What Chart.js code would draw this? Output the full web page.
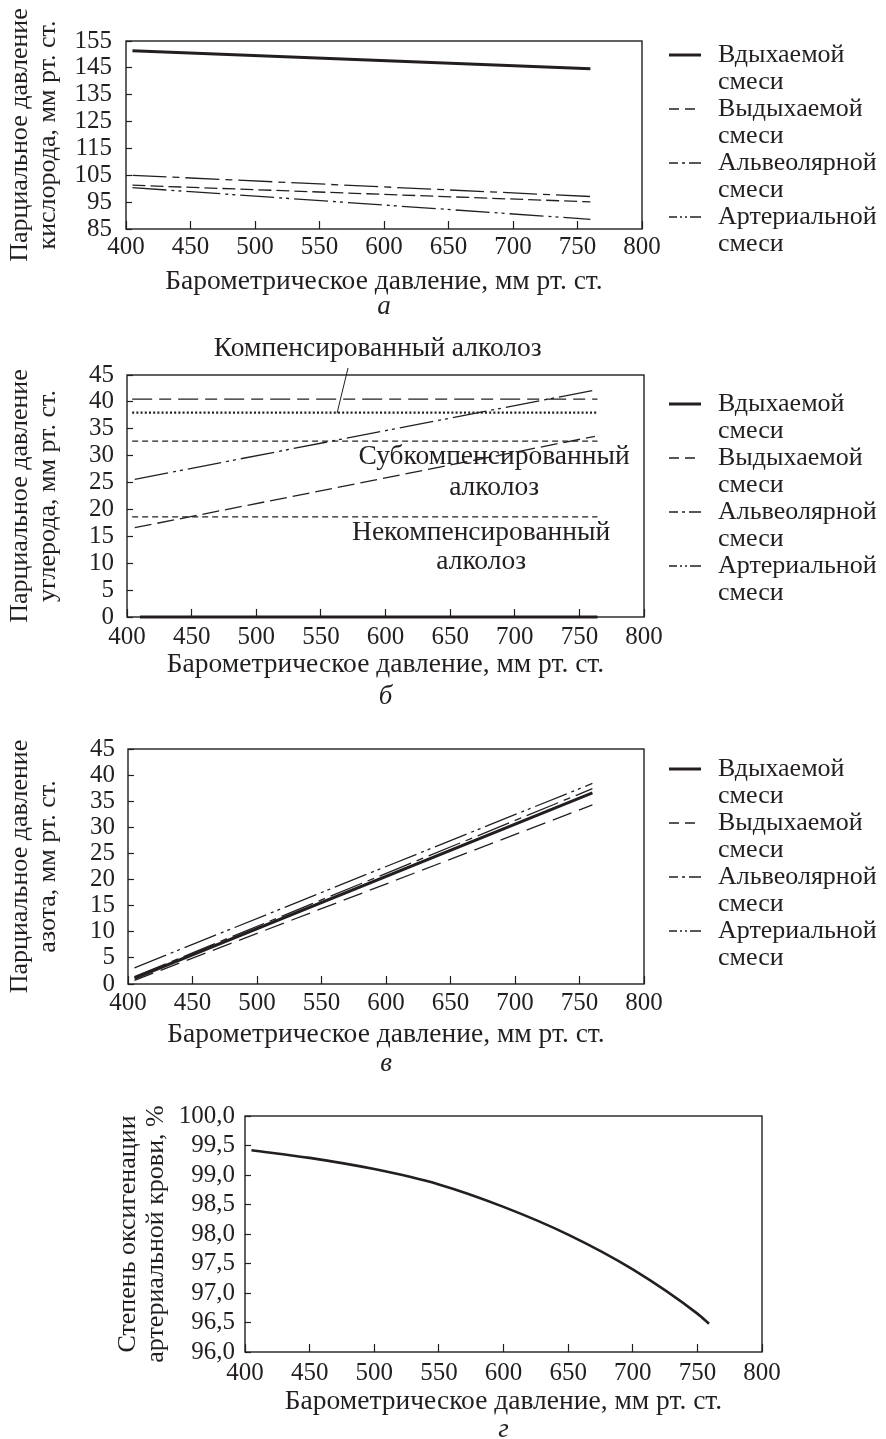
<!DOCTYPE html>
<html lang="ru">
<head>
<meta charset="utf-8">
<title>Парциальное давление газов и барометрическое давление</title>
<script src="https://cdn.jsdelivr.net/npm/chart.js@4.4.1/dist/chart.umd.min.js"></script>
<style>
  body { margin: 0; background: #fff; }
  #page { position: relative; width: 886px; height: 1439px; overflow: hidden;
          font-family: "Liberation Serif", "Times New Roman", serif; color: #231f20; }
  canvas { position: absolute; left: 0; }
  .legend { position: absolute; left: 669px; font-size: 26px; line-height: 27px; }
  .legend .row { position: relative; padding-left: 49px; }
  .legend svg { position: absolute; left: 0; top: 12px; }
</style>
</head>
<body>
<div id="page">
  <canvas id="chartA"></canvas>
  <canvas id="chartB"></canvas>
  <canvas id="chartC"></canvas>
  <canvas id="chartD"></canvas>
  <div class="legend" id="legendA" style="top:40px"></div>
  <div class="legend" id="legendB" style="top:389px"></div>
  <div class="legend" id="legendC" style="top:754px"></div>
</div>
<script>
const INK = '#231f20';
const FONT = '"Liberation Serif", "Times New Roman", serif';
const TITLE_SIZE = 27.5;
const YTITLE_SIZE = 26;
const TICK_SIZE = 25;

// ---- data ----
const seriesNames = ['Вдыхаемой', 'Выдыхаемой', 'Альвеолярной', 'Артериальной'];
const seriesSuffix = 'смеси';
const xTitle = 'Барометрическое давление, мм рт. ст.';

// а — кислород
const pressureO2 = [405, 760];
const o2Inspired = [151.4, 144.7];
const o2Expired = [101.3, 95.1];
const o2Alveolar = [105.0, 97.1];
const o2Arterial = [100.4, 88.6];

// б — углекислый газ
const pressureCO2 = [406, 762];
const pressureCO2Zero = [410, 764];
const co2Inspired = [0, 0];
const co2Expired = [16.6, 33.6];
const co2Alveolar = [40.5, 40.5];
const co2Arterial = [25.6, 42.2];
const pressureLevels = [404, 764];
const alkalosisNames = ['Компенсированный алколоз', 'Субкомпенсированный алколоз', 'Некомпенсированный алколоз'];
const alkalosisLevels = [38.0, 32.7, 18.6];

// в — азот
const pressureN2 = [405, 760];
const n2Inspired = [1.1, 36.6];
const n2Expired = [0.7, 34.3];
const n2Alveolar = [1.4, 37.4];
const n2Arterial = [3.1, 38.4];

// г — оксигенация артериальной крови
const pressureSat = [405, 450, 500, 550, 600, 650, 700, 750, 759];
const saturation = [99.42, 99.29, 99.10, 98.84, 98.46, 97.99, 97.40, 96.65, 96.48];

// ---- line styles ----
const styles = [
  { borderWidth: 3, borderDash: [] },
  { borderWidth: 1.3, borderDash: [13, 5] },
  { borderWidth: 1.3, borderDash: [34, 6, 7, 6] },
  { borderWidth: 1.3, borderDash: [34, 5, 3, 4, 3, 5] }
];
const legendDash = ['', '10 6', '9 4 3 4 12', '8 3 2 3 2 3 11'];

function pts(xs, ys) {
  return xs.map((x, i) => ({ x: x, y: ys[i] }));
}

function line(label, xs, ys, style, extra) {
  return Object.assign({
    label: label,
    data: pts(xs, ys),
    borderColor: INK,
    pointRadius: 0,
    fill: false,
    tension: 0,
    clip: false
  }, style, extra || {});
}

// frame, panel letter and notes
const framePlugin = {
  id: 'frame',
  afterDraw(chart, args, opts) {
    const { ctx, chartArea: a } = chart;
    const xs = chart.scales.x, ys = chart.scales.y;
    ctx.save();
    ctx.strokeStyle = INK;
    ctx.lineWidth = 1.4;
    ctx.strokeRect(a.left, a.top, a.right - a.left, a.bottom - a.top);
    ctx.fillStyle = INK;
    ctx.textAlign = 'center';
    ctx.textBaseline = 'middle';
    ctx.font = 'italic 27px ' + FONT;
    ctx.fillText(opts.letter, (a.left + a.right) / 2, opts.letterY);
    ctx.font = TITLE_SIZE + 'px ' + FONT;
    (opts.notes || []).forEach(n => {
      ctx.fillText(n.text, xs.getPixelForValue(n.x), ys.getPixelForValue(n.y));
    });
    if (opts.leader) {
      const l = opts.leader;
      ctx.lineWidth = 1;
      ctx.beginPath();
      ctx.moveTo(xs.getPixelForValue(l[0]), ys.getPixelForValue(l[1]));
      ctx.lineTo(xs.getPixelForValue(l[2]), ys.getPixelForValue(l[3]));
      ctx.stroke();
    }
    ctx.restore();
  }
};

function makePanel(id, p, datasets, yOpts, yTitle, frameOpts) {
  const canvas = document.getElementById(id);
  canvas.style.top = p.top + 'px';
  canvas.width = 886;
  canvas.height = p.h;
  const titleLH = TITLE_SIZE * 1.2, yTitleLH = YTITLE_SIZE * 1.1, tickLH = TICK_SIZE * 1.2;
  const areaTop = p.area[1] - p.top;
  const areaBottom = p.area[3] - p.top;
  const xBottom = p.titleY - p.top + titleLH / 2;
  frameOpts.letterY = p.letterY - p.top;
  return new Chart(canvas, {
    type: 'line',
    data: { datasets: datasets },
    options: {
      responsive: false,
      animation: false,
      layout: { padding: { left: 0, top: areaTop, right: 886 - p.area[2], bottom: p.h - xBottom } },
      plugins: {
        legend: { display: false },
        tooltip: { enabled: false },
        frame: frameOpts
      },
      scales: {
        x: {
          type: 'linear', min: 400, max: 800,
          ticks: { stepSize: 50, autoSkip: false, color: INK, padding: p.tickY - p.area[3] + 8 - tickLH / 2,
                   font: { family: FONT, size: TICK_SIZE, lineHeight: 1.2 } },
          grid: { drawOnChartArea: false, tickLength: -8, tickColor: INK, tickWidth: 1.2 },
          border: { display: false },
          title: { display: true, text: xTitle, color: INK, padding: 0,
                   font: { family: FONT, size: TITLE_SIZE, lineHeight: 1.2 } },
          afterFit(s) { s.height = xBottom - areaBottom; }
        },
        y: Object.assign({
          type: 'linear',
          grid: { drawOnChartArea: false, tickLength: -6, tickColor: INK, tickWidth: 1.2 },
          border: { display: false },
          title: { display: true, text: yTitle, color: INK,
                   padding: { top: p.yTitleX - yTitleLH / 2, bottom: 0 },
                   font: { family: FONT, size: YTITLE_SIZE, lineHeight: 1.1 } },
          afterFit(s) { s.width = p.area[0]; }
        }, yOpts)
      }
    },
    plugins: [framePlugin]
  });
}

function tickOpts(step, pad, fmt) {
  const t = { stepSize: step, autoSkip: false, color: INK, padding: pad,
              font: { family: FONT, size: TICK_SIZE, lineHeight: 1.2 } };
  if (fmt) t.callback = fmt;
  return t;
}

function buildLegend(id) {
  const box = document.getElementById(id);
  seriesNames.forEach((name, i) => {
    const row = document.createElement('div');
    row.className = 'row';
    const w = styles[i].borderWidth === 3 ? 3 : 1.4;
    row.innerHTML = '<svg width="32" height="6"><line x1="0" y1="3" x2="32" y2="3" stroke="' + INK +
      '" stroke-width="' + w + '" stroke-dasharray="' + legendDash[i] + '"/></svg>' +
      name + '<br>' + seriesSuffix;
    box.appendChild(row);
  });
}

// а
makePanel('chartA',
  { top: 0, h: 320, area: [126, 41, 642, 229], tickY: 247, titleY: 282, letterY: 307, yTitleX: 20 },
  [
    line(seriesNames[0], pressureO2, o2Inspired, styles[0]),
    line(seriesNames[1], pressureO2, o2Expired, styles[1]),
    line(seriesNames[2], pressureO2, o2Alveolar, styles[2]),
    line(seriesNames[3], pressureO2, o2Arterial, styles[3])
  ],
  { min: 85, max: 155, ticks: tickOpts(10, 20) },
  ['Парциальное давление', 'кислорода, мм рт. ст.'],
  { letter: 'а' });

// б
makePanel('chartB',
  { top: 330, h: 380, area: [127, 375, 644, 617], tickY: 637, titleY: 665, letterY: 697, yTitleX: 20 },
  [
    line(seriesNames[0], pressureCO2Zero, co2Inspired, styles[0]),
    line(seriesNames[1], pressureCO2, co2Expired, { borderWidth: 1.3, borderDash: [17, 6] }),
    line(seriesNames[2], pressureLevels, co2Alveolar, { borderWidth: 1.3, borderDash: [20, 7, 12, 7] }),
    line(seriesNames[3], pressureCO2, co2Arterial, styles[3]),
    line(alkalosisNames[0], pressureLevels, [alkalosisLevels[0], alkalosisLevels[0]], { borderWidth: 2.4, borderDash: [2, 2.2] }),
    line(alkalosisNames[1], pressureLevels, [alkalosisLevels[1], alkalosisLevels[1]], { borderWidth: 1.2, borderDash: [6, 4] }),
    line(alkalosisNames[2], pressureLevels, [alkalosisLevels[2], alkalosisLevels[2]], { borderWidth: 1.2, borderDash: [6, 4] })
  ],
  { min: 0, max: 45, ticks: tickOpts(5, 19) },
  ['Парциальное давление', 'углерода, мм рт. ст.'],
  {
    letter: 'б',
    notes: [
      { text: 'Компенсированный алколоз', x: 594, y: 49.8 },
      { text: 'Субкомпенсированный', x: 684, y: 29.7 },
      { text: 'алколоз', x: 684, y: 24.1 },
      { text: 'Некомпенсированный', x: 674, y: 15.6 },
      { text: 'алколоз', x: 674, y: 10.2 }
    ],
    leader: [571, 46.3, 562.5, 37.9]
  });

// в
makePanel('chartC',
  { top: 715, h: 365, area: [128, 743, 644, 984], tickY: 1003, titleY: 1035, letterY: 1064, yTitleX: 20 },
  [
    line(seriesNames[0], pressureN2, n2Inspired, styles[0]),
    line(seriesNames[1], pressureN2, n2Expired, { borderWidth: 1.3, borderDash: [20, 8] }),
    line(seriesNames[2], pressureN2, n2Alveolar, styles[2]),
    line(seriesNames[3], pressureN2, n2Arterial, styles[3])
  ],
  { min: 0, max: 45, ticks: tickOpts(5, 19) },
  ['Парциальное давление', 'азота, мм рт. ст.'],
  { letter: 'в' });

// г
makePanel('chartD',
  { top: 1085, h: 354, area: [245, 1111, 762, 1352], tickY: 1373, titleY: 1402, letterY: 1430, yTitleX: 128 },
  [
    line('Степень оксигенации', pressureSat, saturation,
      { borderWidth: 2.6, borderDash: [], cubicInterpolationMode: 'monotone' })
  ],
  { min: 96, max: 100, ticks: tickOpts(0.5, 16, v => v.toFixed(1).replace('.', ',')) },
  ['Степень оксигенации', 'артериальной крови, %'],
  { letter: 'г' });

buildLegend('legendA');
buildLegend('legendB');
buildLegend('legendC');
</script>
</body>
</html>
